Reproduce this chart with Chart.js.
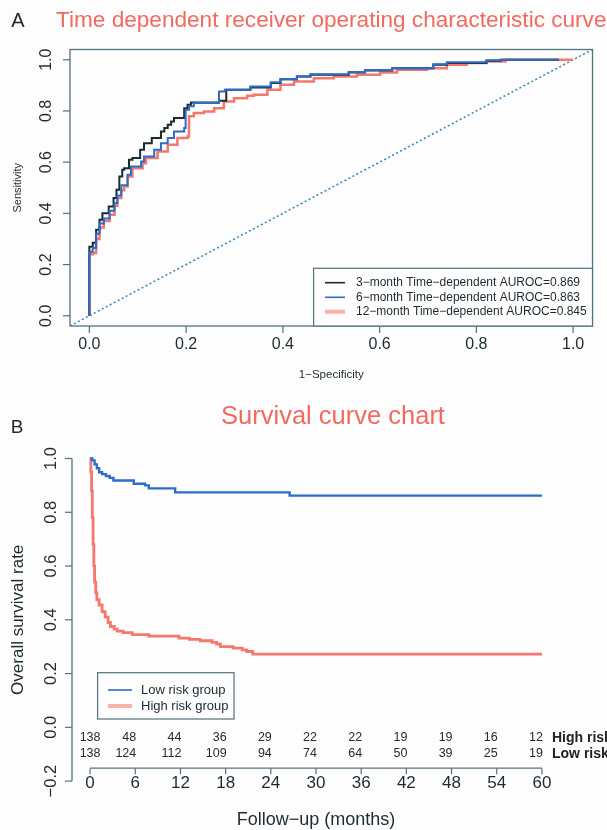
<!DOCTYPE html>
<html><head><meta charset="utf-8">
<script src="https://cdn.jsdelivr.net/npm/chart.js@4/dist/chart.umd.min.js"></script>
<style>
html,body{margin:0;padding:0;background:#fdfdfe;}
#wrap{position:relative;width:607px;height:830px;overflow:hidden;background:#fdfdfe;}
canvas{position:absolute;left:0;}
#c1{top:0}
#c2{top:395px}
</style></head><body>
<div id="wrap"><canvas id="c1" width="607" height="395"></canvas><canvas id="c2" width="607" height="435"></canvas></div>
<script>
// ---------- Panel A: time-dependent ROC ----------
const roc3Fpr = [0,0,0.007,0.014,0.021,0.027,0.040,0.050,0.056,0.062,0.068,0.072,0.082,0.089,0.105,0.113,0.129,0.148,0.155,0.162,0.169,0.175,0.196,0.203,0.210,0.268,0.283,0.333,0.375,0.395,0.429,0.457,0.536,0.570,0.626,0.711,0.739,0.821,0.850,0.970];
const roc3Tpr = [0,0.270,0.285,0.336,0.375,0.400,0.427,0.460,0.492,0.544,0.570,0.576,0.609,0.616,0.648,0.674,0.694,0.720,0.733,0.746,0.759,0.772,0.811,0.824,0.833,0.840,0.883,0.892,0.909,0.924,0.935,0.941,0.950,0.958,0.967,0.980,0.987,0.996,1.000,1.000];
const roc6Fpr = [0,0,0.007,0.014,0.021,0.030,0.042,0.052,0.058,0.066,0.079,0.086,0.107,0.113,0.134,0.148,0.162,0.175,0.196,0.199,0.206,0.216,0.268,0.280,0.333,0.375,0.395,0.429,0.457,0.536,0.570,0.626,0.711,0.739,0.821,0.850,0.970];
const roc6Tpr = [0,0.250,0.265,0.320,0.360,0.380,0.410,0.440,0.470,0.510,0.551,0.583,0.603,0.622,0.648,0.674,0.694,0.720,0.733,0.805,0.818,0.831,0.876,0.883,0.895,0.912,0.924,0.935,0.943,0.952,0.960,0.967,0.982,0.990,0.998,1.000,1.000];
const roc12Fpr = [0,0,0.007,0.014,0.021,0.030,0.042,0.052,0.058,0.066,0.072,0.079,0.089,0.110,0.117,0.141,0.162,0.182,0.203,0.206,0.216,0.237,0.258,0.278,0.299,0.326,0.340,0.368,0.395,0.423,0.464,0.505,0.553,0.601,0.636,0.698,0.739,0.780,0.820,0.860,1.000];
const roc12Tpr = [0,0.240,0.245,0.300,0.345,0.370,0.395,0.430,0.460,0.490,0.505,0.544,0.576,0.596,0.616,0.642,0.668,0.694,0.700,0.779,0.792,0.798,0.811,0.837,0.850,0.859,0.863,0.883,0.902,0.915,0.928,0.935,0.941,0.950,0.961,0.967,0.980,0.987,0.993,1.000,1.000];
const rocDiagonal = [-0.04, 1.04];
const rocTicks = [0, 0.2, 0.4, 0.6, 0.8, 1.0];
const rocTickLabels = ['0.0','0.2','0.4','0.6','0.8','1.0'];
const rocLegendLabels = ['3\u2212month Time\u2212dependent AUROC=0.869','6\u2212month Time\u2212dependent AUROC=0.863','12\u2212month Time\u2212dependent AUROC=0.845'];

// ---------- Panel B: survival ----------
const lowMonths = [0,0.3,0.6,0.9,1.2,1.6,2.1,2.6,3.1,5.8,7.3,7.8,11.3,26.5,60];
const lowSurv   = [1,0.993,0.978,0.964,0.949,0.942,0.935,0.928,0.918,0.906,0.900,0.889,0.874,0.862,0.862];
const highMonths = [0,0.1,0.2,0.3,0.4,0.5,0.6,0.75,0.9,1.2,1.6,2.0,2.4,2.7,3.2,3.6,4.4,5.6,7.8,11.8,13.2,14.6,16.2,16.8,17.3,19.0,20.2,20.8,21.6,60];
const highSurv   = [1,0.95,0.88,0.78,0.68,0.60,0.54,0.50,0.475,0.455,0.43,0.41,0.39,0.375,0.365,0.358,0.352,0.345,0.339,0.332,0.327,0.322,0.316,0.310,0.300,0.295,0.288,0.282,0.272,0.272];
const survXTicks = [0,6,12,18,24,30,36,42,48,54,60];
const survYTicks = [-0.2,0,0.2,0.4,0.6,0.8,1.0];
const survYTickLabels = ['\u22120.2','0.0','0.2','0.4','0.6','0.8','1.0'];
const riskHigh = [138,48,44,36,29,22,22,19,19,16,12];
const riskLow  = [138,124,112,109,94,74,64,50,39,25,19];
const riskRowLabels = ['High risk','Low risk'];
const survLegendLabels = ['Low risk group','High risk group'];

const FONT = "'Liberation Sans', Arial, Helvetica, sans-serif";
const AX = '#52727d';
const TXT = '#1d2a30';
const BLACK = '#1e2b2b';
const BLUE = '#2b6dc8';
const RED = '#f4786c';
const PINK = '#f8b2aa';
const TITLE_RED = '#f26a5e';

function pts(xs, ys){ return xs.map((x,i)=>({x:x, y:ys[i]})); }

function txt(ctx, s, x, y, size, opts){
  opts = opts || {};
  ctx.save();
  ctx.font = (opts.bold?'bold ':'') + size + 'px ' + FONT;
  ctx.fillStyle = opts.color || TXT;
  ctx.textAlign = opts.align || 'center';
  ctx.textBaseline = 'middle';
  ctx.translate(x, y);
  if (opts.rot) ctx.rotate(-Math.PI/2);
  ctx.fillText(s, 0, 0);
  ctx.restore();
}
function seg(ctx, x1,y1,x2,y2, color, w){
  ctx.save(); ctx.strokeStyle=color; ctx.lineWidth=w; ctx.beginPath(); ctx.moveTo(x1,y1); ctx.lineTo(x2,y2); ctx.stroke(); ctx.restore();
}

const rocPlugin = {
  id:'rocDecor',
  afterDraw(chart){
    const ctx = chart.ctx, xs = chart.scales.x, ys = chart.scales.y, ca = chart.chartArea;
    ctx.save();
    ctx.strokeStyle = AX; ctx.lineWidth = 1.3;
    ctx.strokeRect(ca.left, ca.top, ca.right-ca.left, ca.bottom-ca.top);
    ctx.restore();
    rocTicks.forEach((v,i)=>{
      const py = ys.getPixelForValue(v);
      seg(ctx, ca.left-7, py, ca.left, py, AX, 1.2);
      txt(ctx, rocTickLabels[i], 47, py, 16, {rot:true});
      const px = xs.getPixelForValue(v);
      seg(ctx, px, ca.bottom, px, ca.bottom+7, AX, 1.2);
      txt(ctx, rocTickLabels[i], px, 345, 16);
    });
    txt(ctx, 'Sensitivity', 18, (ca.top+ca.bottom)/2, 11, {rot:true});
    txt(ctx, '1\u2212Specificity', (ca.left+ca.right)/2, 375, 11.5);
    txt(ctx, 'Time dependent receiver operating characteristic curve', (ca.left+ca.right)/2, 21, 22.6, {color:TITLE_RED});
    txt(ctx, 'A', 18, 21, 20);
    // legend
    const lx = 313.6, ly = 268.3;
    ctx.save(); ctx.fillStyle='#fdfdfe'; ctx.fillRect(lx, ly, ca.right-lx, ca.bottom-ly);
    ctx.strokeStyle = AX; ctx.lineWidth=1.2; ctx.strokeRect(lx, ly, ca.right-lx, ca.bottom-ly); ctx.restore();
    const cols = [BLACK, BLUE, PINK], widths=[1.6,1.6,4];
    const rows = [282.7, 297.3, 311.7];
    rocLegendLabels.forEach((s,i)=>{
      seg(ctx, 325, rows[i], 345, rows[i], cols[i], widths[i]);
      txt(ctx, s, 356, rows[i], 12, {align:'left'});
    });
  }
};

new Chart(document.getElementById('c1'), {
  type:'line',
  data:{datasets:[
    {data:pts(rocDiagonal, rocDiagonal), borderColor:'#3a8bb3', borderWidth:1.6, borderDash:[2,2.5], pointRadius:0, order:4},
    {data:pts(roc12Fpr, roc12Tpr), borderColor:RED, borderWidth:2.5, stepped:'before', pointRadius:0, order:3},
    {data:pts(roc3Fpr, roc3Tpr), borderColor:BLACK, borderWidth:2, stepped:'before', pointRadius:0, order:2},
    {data:pts(roc6Fpr, roc6Tpr), borderColor:BLUE, borderWidth:2, stepped:'before', pointRadius:0, order:1}
  ]},
  options:{
    responsive:false, animation:false, devicePixelRatio:1,
    layout:{padding:{left:70, right:14.5, top:49.5, bottom:69}},
    scales:{
      x:{type:'linear', min:-0.04, max:1.04, display:false},
      y:{type:'linear', min:-0.04, max:1.04, display:false}
    },
    plugins:{legend:{display:false}, tooltip:{enabled:false}}
  },
  plugins:[rocPlugin]
});

const survPlugin = {
  id:'survDecor',
  afterDraw(chart){
    const ctx = chart.ctx, xs = chart.scales.x, ys = chart.scales.y, ca = chart.chartArea;
    // y axis
    seg(ctx, ca.left, ys.getPixelForValue(survYTicks[survYTicks.length-1]), ca.left, ys.getPixelForValue(survYTicks[0]), AX, 1.3);
    survYTicks.forEach((v,i)=>{
      const py = ys.getPixelForValue(v);
      seg(ctx, ca.left-7, py, ca.left, py, AX, 1.2);
      txt(ctx, survYTickLabels[i], 51, py, 16.5, {rot:true});
    });
    // x axis (risk-table style)
    const axY = ys.getPixelForValue(-0.152);
    seg(ctx, xs.getPixelForValue(survXTicks[0]), axY, xs.getPixelForValue(survXTicks[survXTicks.length-1]), axY, AX, 1.3);
    survXTicks.forEach((v,i)=>{
      const px = xs.getPixelForValue(v);
      seg(ctx, px, axY, px, axY+6, AX, 1.2);
      txt(ctx, String(v), px, 388, 17);
      const al = i===0 ? 'center' : 'right';
      const ox = i===0 ? 0 : 1;
      txt(ctx, String(riskHigh[i]), px+ox, 343, 12.5, {align:al, color:'#2a2a2a'});
      txt(ctx, String(riskLow[i]), px+ox, 359, 12.5, {align:al, color:'#2a2a2a'});
    });
    txt(ctx, riskRowLabels[0], 552, 343, 14, {align:'left', bold:true, color:'#222'});
    txt(ctx, riskRowLabels[1], 552, 359, 14, {align:'left', bold:true, color:'#222'});
    txt(ctx, 'Overall survival rate', 18, (ca.top+ca.bottom)/2, 17, {rot:true});
    txt(ctx, 'Follow\u2212up (months)', (ca.left+ca.right)/2, 425, 18);
    txt(ctx, 'Survival curve chart', 333, 22, 25.5, {color:TITLE_RED});
    txt(ctx, 'B', 17, 33, 19);
    // legend
    const lx = 97.6, ly = 277.7, lw = 136.4, lh = 46.3;
    ctx.save(); ctx.strokeStyle = AX; ctx.lineWidth=1.2; ctx.strokeRect(lx, ly, lw, lh); ctx.restore();
    const cols=[BLUE, PINK], widths=[1.6,4], rows=[295,311];
    survLegendLabels.forEach((s,i)=>{
      seg(ctx, 108, rows[i], 132, rows[i], cols[i], widths[i]);
      txt(ctx, s, 141, rows[i], 13, {align:'left'});
    });
  }
};

new Chart(document.getElementById('c2'), {
  type:'line',
  data:{datasets:[
    {data:pts(highMonths, highSurv), borderColor:RED, borderWidth:2.8, stepped:'before', pointRadius:0, order:2},
    {data:pts(lowMonths, lowSurv), borderColor:BLUE, borderWidth:2.4, stepped:'before', pointRadius:0, order:1}
  ]},
  options:{
    responsive:false, animation:false, devicePixelRatio:1,
    layout:{padding:{left:72, right:47, top:50.6, bottom:36}},
    scales:{
      x:{type:'linear', min:-2.4, max:62.4, display:false},
      y:{type:'linear', min:-0.248, max:1.048, display:false}
    },
    plugins:{legend:{display:false}, tooltip:{enabled:false}}
  },
  plugins:[survPlugin]
});
</script>
</body></html>
